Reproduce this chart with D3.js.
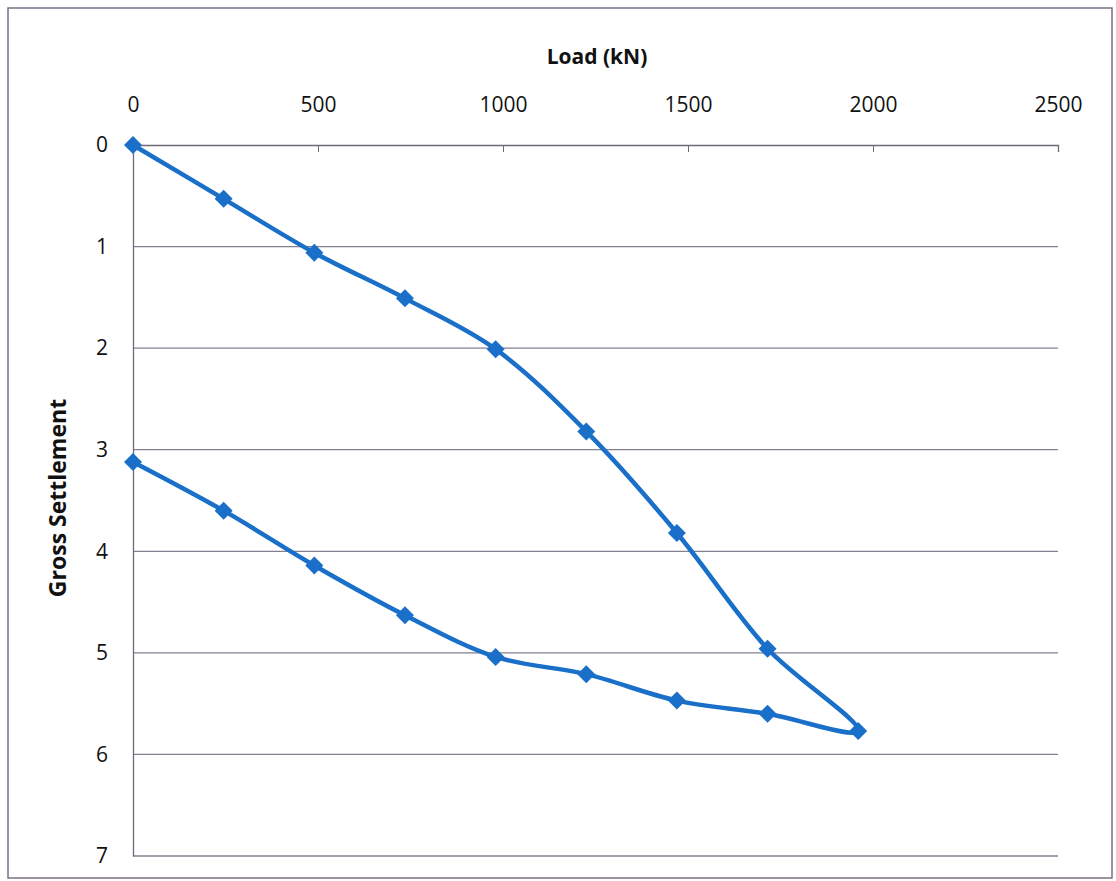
<!DOCTYPE html>
<html><head><meta charset="utf-8">
<script src="https://cdn.jsdelivr.net/npm/d3@7"></script>
<style>body{margin:0;background:#fff;}svg{display:block;font-family:"Open Sans",Lato,sans-serif;}</style>
</head><body><svg id="c" width="1116" height="881"></svg>
<script>
const loads = [0, 245, 490, 735, 980, 1225, 1470, 1715, 1960, 1715, 1470, 1225, 980, 735, 490, 245, 0];
const settlements = [0, 0.53, 1.06, 1.51, 2.01, 2.82, 3.82, 4.96, 5.77, 5.60, 5.47, 5.21, 5.04, 4.63, 4.14, 3.60, 3.12];
const xTicks = [0, 500, 1000, 1500, 2000, 2500];
const yTicks = [0, 1, 2, 3, 4, 5, 6, 7];
const xTitle = "Load (kN)";
const yTitle = "Gross Settlement";

const FONT = "'Open Sans', Lato, sans-serif";
const svg = d3.select("#c");
const L = 133, R = 1058, T = 145, B = 856;
const x = d3.scaleLinear().domain([0, 2500]).range([L, R]);
const y = d3.scaleLinear().domain([0, 7]).range([T, B]);

svg.append("rect").attr("x", 8).attr("y", 8).attr("width", 1104).attr("height", 870)
  .attr("fill", "#fff").attr("stroke", "#7a6f86").attr("stroke-width", 1.5);

// gridlines
svg.append("g").selectAll("line").data(yTicks.slice(1)).join("line")
  .attr("x1", L).attr("x2", R).attr("y1", d => y(d)).attr("y2", d => y(d))
  .attr("stroke", "#857f8f").attr("stroke-width", 1.3);

// x axis on top
const xa = svg.append("g").attr("transform", `translate(0,${T})`)
  .call(d3.axisBottom(x).tickValues(xTicks).tickSize(7).tickFormat(d3.format("d")));
xa.select(".domain").attr("stroke", "#6f6a7a").attr("stroke-width", 1.3);
xa.selectAll(".tick line").attr("stroke", "#6f6a7a");
xa.selectAll(".tick text").attr("y", -40).attr("dy", "0.35em").attr("font-size", 21).attr("fill", "#111").attr("font-family", FONT);

const ya = svg.append("g").attr("transform", `translate(${L},0)`)
  .call(d3.axisLeft(y).tickValues(yTicks).tickSize(0).tickPadding(25).tickFormat(d3.format("d")));
ya.select(".domain").attr("stroke", "#6f6a7a").attr("stroke-width", 1.3);
ya.selectAll(".tick text").attr("font-size", 21).attr("fill", "#111").attr("font-family", FONT);

svg.append("text").attr("x", 597).attr("y", 57).attr("dy", "0.35em").attr("text-anchor", "middle")
  .attr("font-family", FONT).attr("font-size", 21).attr("font-weight", "bold").attr("fill", "#111").text(xTitle);
svg.append("text").attr("transform", "translate(58,498) rotate(-90)").attr("dy", "0.35em").attr("text-anchor", "middle")
  .attr("font-family", FONT).attr("font-size", 23).attr("font-weight", "bold").attr("fill", "#111").text(yTitle);

const pts = loads.map((l, i) => [l, settlements[i]]);
const line = d3.line().x(d => x(d[0])).y(d => y(d[1])).curve(d3.curveCatmullRom.alpha(0.5));
svg.append("path").datum(pts).attr("d", line).attr("fill", "none")
  .attr("stroke", "#1a6fc8").attr("stroke-width", 4.5).attr("stroke-linejoin", "round");

svg.append("g").selectAll("path").data(pts).join("path")
  .attr("transform", d => `translate(${x(d[0])},${y(d[1])})`)
  .attr("d", "M0,-9L9,0L0,9L-9,0Z").attr("fill", "#1a6fc8");
</script></body></html>
